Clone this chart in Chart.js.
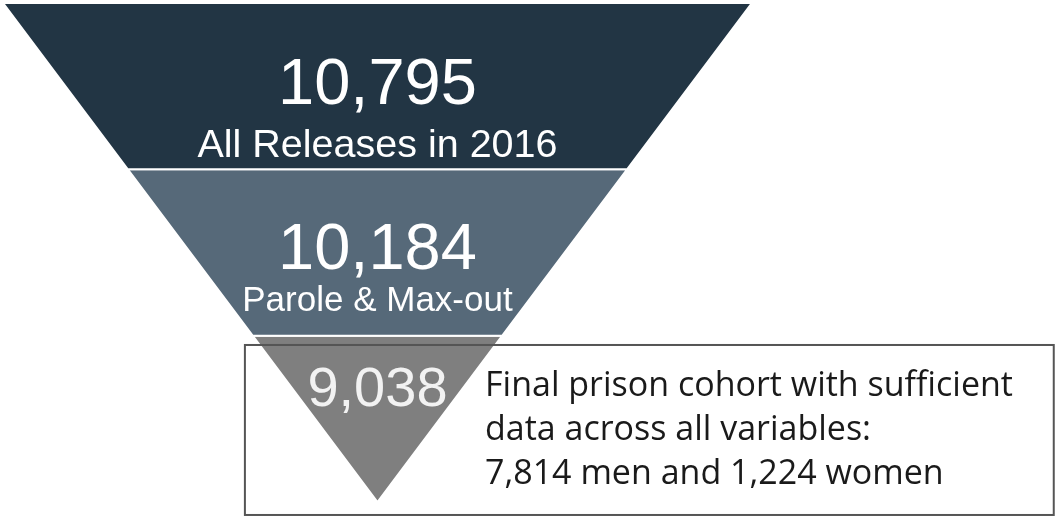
<!DOCTYPE html>
<html>
<head>
<meta charset="utf-8">
<script src="https://cdn.jsdelivr.net/npm/chart.js@4.4.1/dist/chart.umd.min.js"></script>
<style>
  html, body { margin: 0; padding: 0; background: #fff; }
  #wrap { width: 1056px; height: 517px; position: relative; }
</style>
</head>
<body>
<div id="wrap"><canvas id="funnelChart"></canvas></div>
<script>
// funnel stages, top to bottom
const stageCounts = [10795, 10184, 9038];
const stageLabels = ['All Releases in 2016', 'Parole & Max-out', ''];
const stageColors = ['#223544', '#566979', '#7f7f7f'];
const noteLines = [
  'Final prison cohort with sufficient',
  'data across all variables:',
  '7,814 men and 1,224 women'
];

const nStages = stageCounts.length;

// each stage is a slice of an inverted triangle: width shrinks one step per stage
function stageShape(i) {
  const wTop = 1 - i / nStages;
  const wBot = 1 - (i + 1) / nStages;
  return [
    { x: -wTop, y: i },
    { x: wTop, y: i },
    { x: wBot, y: i + 1 },
    { x: -wBot, y: i + 1 },
    { x: -wTop, y: i }
  ];
}

const datasets = stageCounts.map((c, i) => ({
  label: c.toLocaleString('en-US'),
  data: stageShape(i),
  showLine: true,
  fill: 'shape',
  backgroundColor: stageColors[i],
  borderColor: '#ffffff',
  borderWidth: 2,
  pointRadius: 0,
  pointHoverRadius: 0,
  tension: 0
}));

// text inside the funnel + note box
const funnelText = {
  id: 'funnelText',
  afterDatasetsDraw(chart) {
    const ctx = chart.ctx;
    const xs = chart.scales.x;
    const ys = chart.scales.y;
    const cx = xs.getPixelForValue(0);
    const numSize = [65, 65, 56];
    const numOffset = [0.61, 0.60, 0.42];
    const lblSize = [39.5, 35, 0];
    const lblOffset = [0.925, 0.85, 0];

    ctx.save();
    ctx.textAlign = 'center';
    ctx.textBaseline = 'alphabetic';
    stageCounts.forEach((c, i) => {
      ctx.fillStyle = i === 2 ? '#f2f2f2' : '#ffffff';
      ctx.font = numSize[i] + 'px "Liberation Sans", Arial, sans-serif';
      ctx.fillText(c.toLocaleString('en-US'), cx, ys.getPixelForValue(i + numOffset[i]));
      if (stageLabels[i]) {
        ctx.font = lblSize[i] + 'px "Liberation Sans", Arial, sans-serif';
        ctx.fillText(stageLabels[i], cx, ys.getPixelForValue(i + lblOffset[i]));
      }
    });

    // note box around the last stage
    const bx = xs.getPixelForValue(-0.354);
    const by = ys.getPixelForValue(2.056);
    const bw = xs.getPixelForValue(1.806) - bx;
    const bh = ys.getPixelForValue(3.078) - by;
    ctx.strokeStyle = '#555555';
    ctx.lineWidth = 2;
    ctx.strokeRect(bx, by, bw, bh);

    ctx.fillStyle = '#1a1a1a';
    ctx.textAlign = 'left';
    ctx.font = '34px "Open Sans", Arial, sans-serif';
    noteLines.forEach((t, k) => {
      ctx.fillText(t, 485, 396 + k * 44);
    });
    ctx.restore();
  }
};

const chart = new Chart(document.getElementById('funnelChart'), {
  type: 'scatter',
  data: { datasets },
  options: {
    responsive: true,
    maintainAspectRatio: false,
    animation: false,
    layout: { padding: { left: 3, right: 0, top: 3, bottom: 15 } },
    plugins: {
      legend: { display: false },
      tooltip: { enabled: false },
      title: { display: false }
    },
    scales: {
      x: { type: 'linear', min: -1, max: 1.812, display: false },
      y: { type: 'linear', min: 0, max: 3, reverse: true, display: false }
    }
  },
  plugins: [funnelText]
});
</script>
</body>
</html>
